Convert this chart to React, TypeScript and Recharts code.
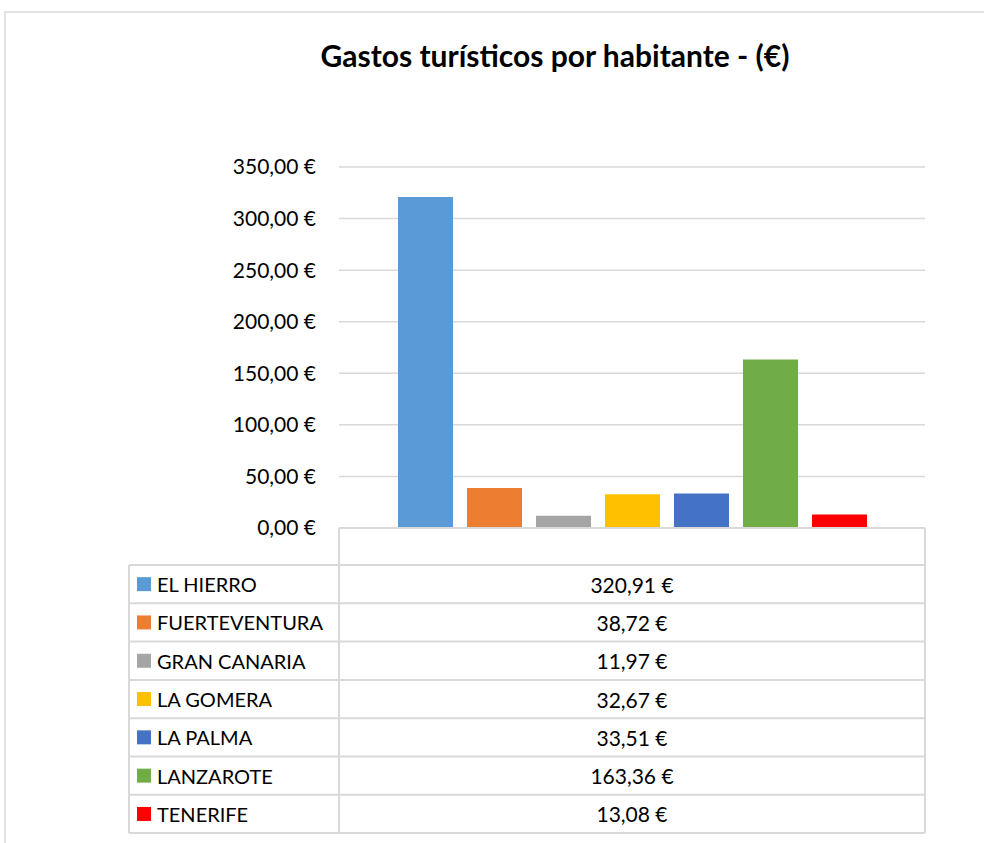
import React from 'react';
import { BarChart, Bar, XAxis, YAxis, CartesianGrid } from 'recharts';

const title = 'Gastos turísticos por habitante - (€)';
const islands = ['EL HIERRO', 'FUERTEVENTURA', 'GRAN CANARIA', 'LA GOMERA', 'LA PALMA', 'LANZAROTE', 'TENERIFE'];
const values = [320.91, 38.72, 11.97, 32.67, 33.51, 163.36, 13.08];
const colors = ['#5B9BD5', '#ED7D31', '#A5A5A5', '#FFC000', '#4472C4', '#70AD47', '#FF0000'];
const yTicks = [0, 50, 100, 150, 200, 250, 300, 350];

const FONT = 'Lato, "Open Sans", sans-serif';
const fmt = (v: number) => v.toFixed(2).replace('.', ',') + ' €';

const row: Record<string, number | string> = { name: '' };
islands.forEach((k, i) => { row[k] = values[i]; });
const data = [row];

// layout
const PLOT_L = 339;
const PLOT_R = 925;
const TABLE_L = 129;
const HEAD_TOP = 528;
const ROW_TOP = 565;
const ROW_H = 38.3;
const GRID = '#d9d9d9';

export default function App() {
  const tableBottom = ROW_TOP + ROW_H * islands.length;
  return (
    <div style={{ position: 'absolute', left: 0, top: 0, width: 984, height: 843, background: '#fff', overflow: 'hidden' }}>
      <svg width={984} height={843} style={{ position: 'absolute', left: 0, top: 0 }}>
        <rect x={5} y={12} width={1000} height={850} fill="#fff" stroke={GRID} strokeWidth={1.5} />
        <text x={555} y={55} textAnchor="middle" dominantBaseline="central" fontFamily={FONT} fontWeight={700} fontSize={30} fill="#000">
          {title}
        </text>
      </svg>
      <div style={{ position: 'absolute', left: 0, top: 0 }}>
        <BarChart width={984} height={560} data={data} margin={{ top: 167, right: 984 - PLOT_R, bottom: 32, left: 0 }} barCategoryGap={59} barGap={14}>
          <CartesianGrid vertical={false} stroke={GRID} strokeWidth={1.5} />
          <XAxis dataKey="name" hide />
          <YAxis
            width={PLOT_L}
            domain={[0, 350]}
            ticks={yTicks}
            axisLine={false}
            tickLine={false}
            tickMargin={17}
            tickFormatter={fmt}
            tick={{ fontSize: 21, fill: '#000', fontFamily: FONT }}
          />
          {islands.map((k, i) => (
            <Bar key={k} dataKey={k} fill={colors[i]} isAnimationActive={false} />
          ))}
        </BarChart>
      </div>
      <svg width={984} height={843} style={{ position: 'absolute', left: 0, top: 0, pointerEvents: 'none' }}>
        <g stroke={GRID} strokeWidth={2}>
          <line x1={PLOT_L} x2={PLOT_R} y1={HEAD_TOP} y2={HEAD_TOP} />
          {islands.map((_, i) => (
            <line key={i} x1={TABLE_L} x2={PLOT_R} y1={ROW_TOP + ROW_H * i} y2={ROW_TOP + ROW_H * i} />
          ))}
          <line x1={TABLE_L} x2={PLOT_R} y1={tableBottom} y2={tableBottom} />
          <line x1={TABLE_L} x2={TABLE_L} y1={ROW_TOP} y2={tableBottom} />
          <line x1={PLOT_L} x2={PLOT_L} y1={HEAD_TOP} y2={tableBottom} />
          <line x1={PLOT_R} x2={PLOT_R} y1={HEAD_TOP} y2={tableBottom} />
        </g>
        {islands.map((k, i) => {
          const cy = ROW_TOP + ROW_H * i + ROW_H / 2;
          return (
            <g key={k}>
              <rect x={137} y={cy - 7} width={14} height={14} fill={colors[i]} />
              <text x={157} y={cy} dominantBaseline="central" fontFamily={FONT} fontSize={20} fill="#000">{k}</text>
              <text x={(PLOT_L + PLOT_R) / 2} y={cy} textAnchor="middle" dominantBaseline="central" fontFamily={FONT} fontSize={21} fill="#000">{fmt(values[i])}</text>
            </g>
          );
        })}
      </svg>
    </div>
  );
}
